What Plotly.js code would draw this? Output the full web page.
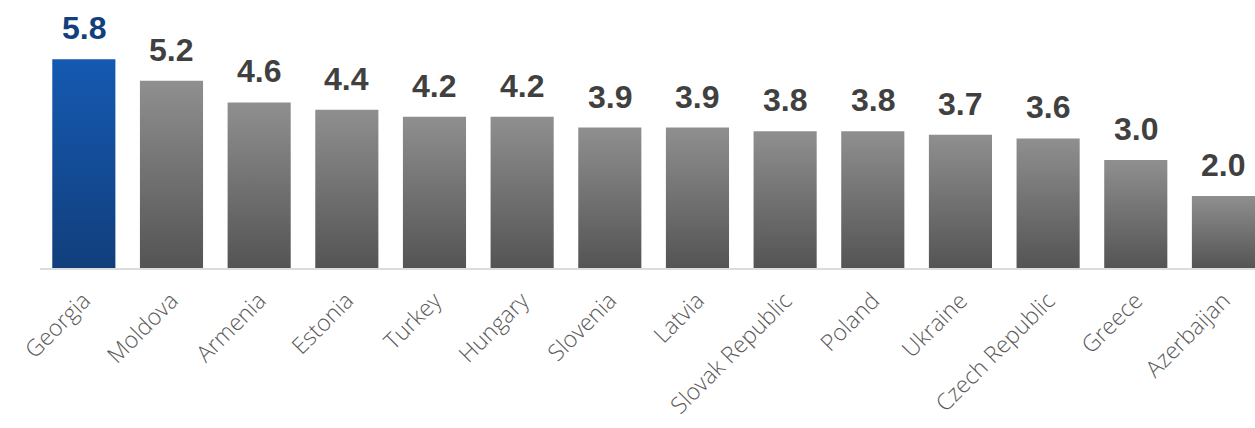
<!DOCTYPE html>
<html>
<head>
<meta charset="utf-8">
<script src="https://cdn.plot.ly/plotly-3.0.1.min.js"></script>
<style>html,body{margin:0;padding:0;background:#fff;} #chart{width:1255px;height:428px;}</style>
</head>
<body>
<div id="chart"></div>
<script>
const countries = ["Georgia","Moldova","Armenia","Estonia","Turkey","Hungary","Slovenia","Latvia","Slovak Republic","Poland","Ukraine","Czech Republic","Greece","Azerbaijan"];
const values = [5.8,5.2,4.6,4.4,4.2,4.2,3.9,3.9,3.8,3.8,3.7,3.6,3.0,2.0];
const highlight = "Georgia";

const barColors = countries.map(c => c === highlight ? "#1450a0" : "#747474");
const labelColors = countries.map(c => c === highlight ? "#133f7c" : "#404040");

const trace = {
  type: "bar",
  x: countries,
  y: values,
  marker: {color: barColors, line: {width: 0}},
  hoverinfo: "x+y"
};

const annotations = countries.map((c, i) => ({
  x: c, y: values[i], xref: "x", yref: "y",
  text: values[i].toFixed(1),
  showarrow: false, yanchor: "bottom", yshift: 11,
  font: {family: "Liberation Sans, Arial, sans-serif", size: 32, color: labelColors[i], weight: 700}
}));

const layout = {
  width: 1255, height: 428,
  margin: {l: 40, r: 0, t: 20, b: 160},
  paper_bgcolor: "#fff", plot_bgcolor: "#fff",
  bargap: 0.28,
  showlegend: false,
  xaxis: {
    range: [-0.5, 13.36],
    showgrid: false, zeroline: false,
    showline: true, linecolor: "#dcdcdc", linewidth: 2,
    ticks: "", tickangle: -45,
    ticklabelstandoff: 8,
    tickfont: {family: "Open Sans, sans-serif", size: 23, color: "#5a5a5a", weight: 300}
  },
  yaxis: {range: [0, 6.89], visible: false, showgrid: false, zeroline: false},
  annotations: annotations
};

Plotly.newPlot("chart", [trace], layout, {displayModeBar: false, staticPlot: true}).then(gd => {
  const svg = gd.querySelector("svg.main-svg");
  const ns = "http://www.w3.org/2000/svg";
  let defs = svg.querySelector("defs");
  if (!defs) { defs = document.createElementNS(ns, "defs"); svg.insertBefore(defs, svg.firstChild); }
  function grad(id, top, bottom) {
    const g = document.createElementNS(ns, "linearGradient");
    g.setAttribute("id", id);
    g.setAttribute("x1", "0"); g.setAttribute("y1", "0");
    g.setAttribute("x2", "0"); g.setAttribute("y2", "1");
    [[0, top], [1, bottom]].forEach(([o, col]) => {
      const s = document.createElementNS(ns, "stop");
      s.setAttribute("offset", o); s.setAttribute("stop-color", col);
      g.appendChild(s);
    });
    defs.appendChild(g);
  }
  grad("gradBlue", "#1559b2", "#113f7c");
  grad("gradGray", "#908f90", "#545454");
  gd.querySelectorAll(".barlayer .point path").forEach((p, i) => {
    p.style.fill = countries[i] === highlight ? "url(#gradBlue)" : "url(#gradGray)";
  });
});
</script>
</body>
</html>
